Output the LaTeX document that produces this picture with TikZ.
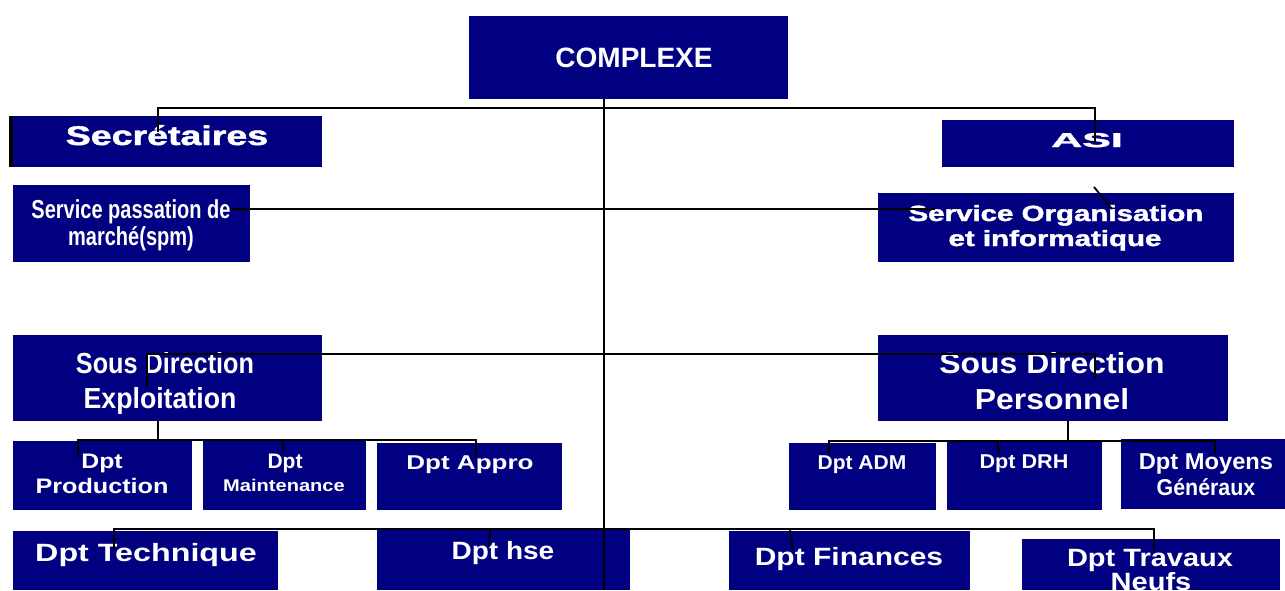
\documentclass[tikz,border=0pt]{standalone}
\usepackage{graphicx}
\usepackage{fontspec}
\setmainfont{Liberation Sans}
\newfontfamily\heavysans{Liberation Sans Bold}[FakeBold=1.6]
\definecolor{orgnavy}{RGB}{0,0,128}

% a filled unit box given by its corners (x0,y0) and (x1,y1)
\newcommand\orgbox[5]{%
  \node[box, minimum width={#4-#2}, minimum height={#5-#3}] (#1)
    at ({(#2+#4)/2},{(#3+#5)/2}) {};}
% one line of white bold text: name, centre x, baseline y, size, x-stretch, text
\newcommand\orgtext[6]{%
  \node[lbl, font=\fontsize{#4}{#4}\selectfont\bfseries] (#1) at (#2,#3)
    {\scalebox{#5}[1]{#6}};}
% the same with a heavier face
\newcommand\orgheavy[6]{%
  \node[lbl, font=\fontsize{#4}{#4}\selectfont\heavysans] (#1) at (#2,#3)
    {\scalebox{#5}[1]{#6}};}

\begin{document}
\begin{tikzpicture}[x=1pt,y=-1pt,
  box/.style={fill=orgnavy, draw=none, inner sep=0pt, outer sep=0pt},
  lbl/.style={text=white, inner sep=0pt, outer sep=0pt, anchor=base},
  link/.style={draw=black, line width=1.8pt, line join=miter}]
\useasboundingbox (0,0) rectangle (1285,590);
\fill[white] (0,0) rectangle (1285,590);

% ---- boxes ----
\orgbox{complexe}{469}{16}{788}{99}
\orgbox{sec}{9}{116}{322}{167}
\fill[black] (sec.north west) rectangle ([xshift=4pt]sec.south west);
\orgbox{asi}{942}{120}{1234}{167}
\orgbox{spm}{13}{185}{250}{262}
\orgbox{soi}{878}{193}{1234}{262}
\orgbox{sde}{13}{335}{322}{421}
\orgbox{sdp}{878}{335}{1228}{421}
\orgbox{prod}{13}{441}{192}{510}
\orgbox{maint}{203}{441}{366}{510}
\orgbox{appro}{377}{443}{562}{510}
\orgbox{adm}{789}{443}{936}{510}
\orgbox{drh}{947}{442}{1102}{510}
\orgbox{moy}{1121}{439}{1285}{509}
\orgbox{tech}{13}{531}{278}{590}
\orgbox{hse}{377}{528}{630}{590}
\orgbox{fin}{729}{531}{970}{590}
\orgbox{trav}{1022}{539}{1280}{590}

% ---- texts ----
\orgtext{tComplexe}{634}{67}{28}{1}{COMPLEXE}
\orgheavy{tSec}{167}{145}{27}{1.39}{Secrétaires}
\orgheavy{tAsi}{1087}{147}{20}{2.15}{ASI}
\orgtext{tSpmA}{131}{218}{26}{0.77}{Service passation de}
\orgtext{tSpmB}{131}{245}{26}{0.77}{marché(spm)}
\orgheavy{tSoiA}{1056}{221}{22}{1.34}{Service Organisation}
\orgheavy{tSoiB}{1055}{246}{22}{1.34}{et informatique}
\orgtext{tSdeA}{165}{373}{29}{0.87}{Sous Direction}
\orgtext{tSdeB}{160}{408}{29}{0.92}{Exploitation}
\orgtext{tSdpA}{1052}{373}{29}{1.1}{Sous Direction}
\orgtext{tSdpB}{1052}{409}{29}{1.1}{Personnel}
\orgtext{tProdA}{102}{468}{21}{1.18}{Dpt}
\orgtext{tProdB}{102}{493}{21}{1.2}{Production}
\orgtext{tMaintA}{285}{468}{21}{1.0}{Dpt}
\orgtext{tMaintB}{284}{491}{17}{1.18}{Maintenance}
\orgtext{tAppro}{470}{469}{20}{1.3}{Dpt Appro}
\orgtext{tAdm}{862}{469}{20}{1.05}{Dpt ADM}
\orgtext{tDrh}{1024}{468}{20}{1.08}{Dpt DRH}
\orgtext{tMoyA}{1206}{469}{23}{1.03}{Dpt Moyens}
\orgtext{tMoyB}{1206}{495}{23}{0.93}{Généraux}
\orgtext{tTech}{146}{561}{25}{1.29}{Dpt Technique}
\orgtext{tHse}{503}{559}{25}{1.12}{Dpt hse}
\orgtext{tFin}{849}{565}{25}{1.2}{Dpt Finances}
\orgtext{tTravA}{1150}{566}{25}{1.16}{Dpt Travaux}
\orgtext{tTravB}{1151}{590}{25}{1.16}{Neufs}

% ---- connector points ----
\coordinate (trunkTop) at (604,99);
\coordinate (trunkBot) at (604,590);
\coordinate (secTap) at (158,132);
\coordinate (asiTap) at (1095,143);
\coordinate (spmTap) at (230,209);
\coordinate (soiTap) at (935,209);
\coordinate (asiFoot) at (1094,187);
\coordinate (soiHead) at (1112,209);
\coordinate (sdeTap) at (147,387);
\coordinate (sdpTap) at (1095,379);
\coordinate (sdeFoot) at (158,421);
\coordinate (prodTap) at (78,457);
\coordinate (maintTap) at (284,452);
\coordinate (approTap) at (476,457);
\coordinate (sdpFoot) at (1068,421);
\coordinate (admTap) at (829,454);
\coordinate (drhTap) at (999,454);
\coordinate (moyTap) at (1215,454);
\coordinate (techTap) at (114,550);
\coordinate (hseTap) at (489,547);
\coordinate (finTap) at (793,550);
\coordinate (travTap) at (1154,550);

% ---- connectors ----
\draw[link] (trunkTop) -- (trunkBot);
\draw[link] (secTap) |- (asiTap |- 0,108) -- (asiTap);
\draw[link] (spmTap) -- (soiTap);
\draw[link] (asiFoot) -- (soiHead);
\draw[link] (sdeTap) |- (sdpTap |- 0,354) -- (sdpTap);
\draw[link] (sdeFoot) -- (sdeFoot |- 0,440);
\draw[link] (prodTap) |- (approTap |- 0,440) -- (approTap);
\draw[link] (282,440) -- (maintTap);
\draw[link] (sdpFoot) -- (sdpFoot |- 0,441);
\draw[link] (admTap) |- (moyTap |- 0,441) -- (moyTap);
\draw[link] (997,441) -- (drhTap);
\draw[link] (techTap) |- (travTap |- 0,529) -- (travTap);
\draw[link] (490,529) -- (hseTap);
\draw[link] (790,529) -- (finTap);
\end{tikzpicture}
\end{document}
